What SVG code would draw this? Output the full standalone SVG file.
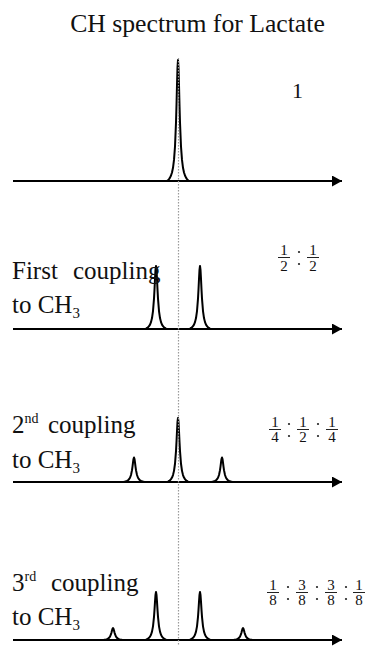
<svg xmlns="http://www.w3.org/2000/svg" width="366" height="646" viewBox="0 0 366 646">
<style>
text{fill:#111}
.lbl{font-size:25px}
.sup{font-size:14px}
.frac{font-size:15px;text-anchor:middle}
.axis{stroke:#000;stroke-width:2;fill:none}
.pk{stroke:#000;stroke-width:2;fill:none;stroke-linejoin:round}
.bar{stroke:#222;stroke-width:1}
.dot{fill:#222}
</style>
<defs>
<marker id="arr" markerWidth="10" markerHeight="11" refX="10" refY="5.5" orient="auto" markerUnits="userSpaceOnUse">
<path d="M0,0 L10,5.5 L0,11 Z" fill="#000"/>
</marker>
<path id="peak" class="pk" vector-effect="non-scaling-stroke" d="M-11,0 L-10,-0.7 L-9,-1.6 L-8,-2.8 L-7,-4.5 L-6,-7 L-5,-10.9 L-4,-17.4 L-3,-28.5 L-2,-48.3 L-1.5,-62.8 L-1,-79.3 L-0.5,-93.9 L0,-100 L0.5,-93.9 L1,-79.3 L1.5,-62.8 L2,-48.3 L3,-28.5 L4,-17.4 L5,-10.9 L6,-7 L7,-4.5 L8,-2.8 L9,-1.6 L10,-0.7 L11,0"/>
</defs>

<g font-family="'Liberation Serif', 'DejaVu Serif', serif">
<text id="title" x="197.5" y="32" text-anchor="middle" font-size="25.7">CH spectrum for Lactate</text>

<g id="connectors">
<line class="axis" x1="13" y1="181" x2="342" y2="181" marker-end="url(#arr)"/>
<line class="axis" x1="13" y1="329" x2="342" y2="329" marker-end="url(#arr)"/>
<line class="axis" x1="13" y1="482" x2="342" y2="482" marker-end="url(#arr)"/>
<line class="axis" x1="13" y1="640" x2="342" y2="640" marker-end="url(#arr)"/>
</g>

<g id="spectrum0">
<use href="#peak" transform="translate(178,181) scale(1,1.21)"/>
<text x="292" y="98" font-size="22">1</text>
</g>

<g id="spectrum1">
<use href="#peak" transform="translate(156,329) scale(1,0.63)"/>
<use href="#peak" transform="translate(200,329) scale(1,0.63)"/>
<text class="lbl" x="12" y="279">First</text>
<text class="lbl" x="73" y="279">coupling</text>
<text class="lbl" x="12" y="313">to CH<tspan dy="5" font-size="15">3</tspan></text>
<g id="ratio1">
<text class="frac" x="284" y="255">1</text><line class="bar" x1="278" y1="257.5" x2="290" y2="257.5"/><text class="frac" x="284" y="271">2</text>
<circle class="dot" cx="299" cy="252" r="1.1"/><circle class="dot" cx="299" cy="264" r="1.1"/>
<text class="frac" x="313" y="255">1</text><line class="bar" x1="307" y1="257.5" x2="319" y2="257.5"/><text class="frac" x="313" y="271">2</text>
</g>
</g>

<g id="spectrum2">
<use href="#peak" transform="translate(134,482) scale(1,0.245)"/>
<use href="#peak" transform="translate(178,482) scale(1,0.64)"/>
<use href="#peak" transform="translate(222,482) scale(1,0.245)"/>
<text class="lbl" x="12" y="433">2<tspan class="sup" dy="-10">nd</tspan></text>
<text class="lbl" x="48" y="433">coupling</text>
<text class="lbl" x="12" y="468">to CH<tspan dy="5" font-size="15">3</tspan></text>
<g id="ratio2">
<text class="frac" x="275" y="427">1</text><line class="bar" x1="269" y1="429.5" x2="281" y2="429.5"/><text class="frac" x="275" y="442">4</text>
<circle class="dot" cx="289" cy="424" r="1.1"/><circle class="dot" cx="289" cy="436" r="1.1"/>
<text class="frac" x="303" y="427">1</text><line class="bar" x1="297" y1="429.5" x2="309" y2="429.5"/><text class="frac" x="303" y="442">2</text>
<circle class="dot" cx="318" cy="424" r="1.1"/><circle class="dot" cx="318" cy="436" r="1.1"/>
<text class="frac" x="332" y="427">1</text><line class="bar" x1="326" y1="429.5" x2="338" y2="429.5"/><text class="frac" x="332" y="442">4</text>
</g>
</g>

<g id="spectrum3">
<use href="#peak" transform="translate(113,640) scale(1,0.12)"/>
<use href="#peak" transform="translate(156,640) scale(1,0.48)"/>
<use href="#peak" transform="translate(200,640) scale(1,0.48)"/>
<use href="#peak" transform="translate(243,640) scale(1,0.12)"/>
<text class="lbl" x="12" y="591">3<tspan class="sup" dy="-10">rd</tspan></text>
<text class="lbl" x="51" y="591">coupling</text>
<text class="lbl" x="12" y="625">to CH<tspan dy="5" font-size="15">3</tspan></text>
<g id="ratio3">
<text class="frac" x="273" y="590">1</text><line class="bar" x1="267" y1="592.5" x2="279" y2="592.5"/><text class="frac" x="273" y="605">8</text>
<circle class="dot" cx="288" cy="587" r="1.1"/><circle class="dot" cx="288" cy="599" r="1.1"/>
<text class="frac" x="302" y="590">3</text><line class="bar" x1="296" y1="592.5" x2="308" y2="592.5"/><text class="frac" x="302" y="605">8</text>
<circle class="dot" cx="317" cy="587" r="1.1"/><circle class="dot" cx="317" cy="599" r="1.1"/>
<text class="frac" x="331" y="590">3</text><line class="bar" x1="325" y1="592.5" x2="337" y2="592.5"/><text class="frac" x="331" y="605">8</text>
<circle class="dot" cx="346" cy="587" r="1.1"/><circle class="dot" cx="346" cy="599" r="1.1"/>
<text class="frac" x="359" y="590">1</text><line class="bar" x1="353" y1="592.5" x2="365" y2="592.5"/><text class="frac" x="359" y="605">8</text>
</g>
</g>
</g>

<line id="centerline" x1="178.5" y1="58" x2="178.5" y2="646" stroke="#9a9a9a" stroke-width="1.2" stroke-dasharray="1.5 1.5"/>
</svg>
